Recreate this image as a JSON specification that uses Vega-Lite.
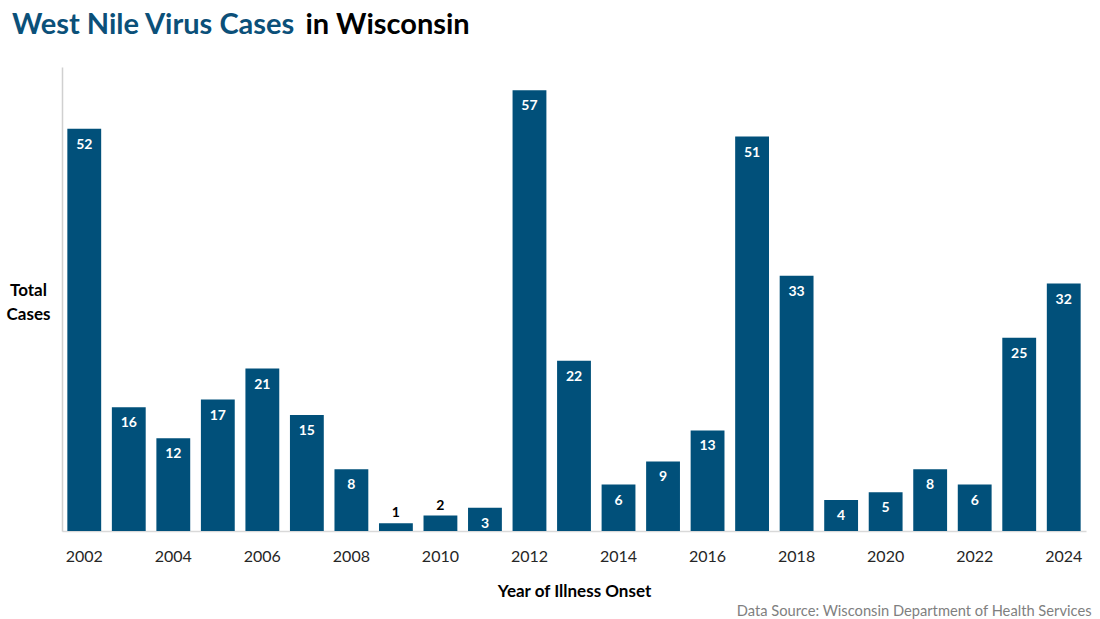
{
  "$schema": "https://vega.github.io/schema/vega-lite/v6.json",
  "autosize": {"type": "none"},
  "width": 1024,
  "height": 464,
  "padding": {"left": 62, "top": 67, "right": 14, "bottom": 88},
  "background": "white",
  "config": {
    "view": {"stroke": null},
    "font": "Lato",
    "axis": {"grid": false}
  },
  "title": {
    "text": "West Nile Virus Cases",
    "anchor": "start",
    "frame": "group",
    "dx": -50,
    "color": "#0B5079",
    "font": "Lato",
    "fontSize": 29,
    "fontWeight": "bold",
    "baseline": "alphabetic",
    "offset": -53
  },
  "data": {
    "values": [
      {"year": 2002, "cases": 52},
      {"year": 2003, "cases": 16},
      {"year": 2004, "cases": 12},
      {"year": 2005, "cases": 17},
      {"year": 2006, "cases": 21},
      {"year": 2007, "cases": 15},
      {"year": 2008, "cases": 8},
      {"year": 2009, "cases": 1},
      {"year": 2010, "cases": 2},
      {"year": 2011, "cases": 3},
      {"year": 2012, "cases": 57},
      {"year": 2013, "cases": 22},
      {"year": 2014, "cases": 6},
      {"year": 2015, "cases": 9},
      {"year": 2016, "cases": 13},
      {"year": 2017, "cases": 51},
      {"year": 2018, "cases": 33},
      {"year": 2019, "cases": 4},
      {"year": 2020, "cases": 5},
      {"year": 2021, "cases": 8},
      {"year": 2022, "cases": 6},
      {"year": 2023, "cases": 25},
      {"year": 2024, "cases": 32}
    ]
  },
  "layer": [
    {
      "encoding": {
        "x": {
          "field": "year",
          "type": "ordinal",
          "scale": {"paddingInner": 0.24, "paddingOuter": 0.12},
          "axis": {
            "orient": "bottom",
            "values": [2002, 2004, 2006, 2008, 2010, 2012, 2014, 2016, 2018, 2020, 2022, 2024],
            "labelAngle": 0,
            "ticks": false,
            "tickSize": 0,
            "domainColor": "#D9D9D9",
            "domainWidth": 1.5,
            "labelFont": "Lato",
            "labelFontSize": 16,
            "labelColor": "#262626",
            "labelBaseline": "alphabetic",
            "labelPadding": 30,
            "title": "Year of Illness Onset",
            "titleFont": "Lato",
            "titleFontSize": 17,
            "titleFontWeight": "bold",
            "titleColor": "#000000",
            "titleBaseline": "alphabetic",
            "titleAlign": "center",
            "titleX": 512,
            "titleY": 65
          }
        },
        "y": {
          "field": "cases",
          "type": "quantitative",
          "scale": {"domain": [0, 60], "nice": false},
          "axis": {
            "orient": "left",
            "labels": false,
            "ticks": false,
            "tickSize": 0,
            "domainColor": "#D0D0D0",
            "domainWidth": 1.5,
            "title": ["Total", "Cases"],
            "titleAngle": 0,
            "titleFont": "Lato",
            "titleFontSize": 17,
            "titleFontWeight": "bold",
            "titleColor": "#000000",
            "titleAlign": "center",
            "titleBaseline": "alphabetic",
            "titleLineHeight": 24,
            "titleX": -34,
            "titleY": 228
          }
        }
      },
      "layer": [
        {"mark": {"type": "bar", "color": "#01507A"}},
        {
          "transform": [{"filter": "datum.cases >= 3"}],
          "mark": {"type": "text", "color": "white", "font": "Lato", "fontWeight": "bold", "fontSize": 14, "baseline": "middle", "dy": 16},
          "encoding": {"text": {"field": "cases", "type": "quantitative"}}
        },
        {
          "transform": [{"filter": "datum.cases < 3"}],
          "mark": {"type": "text", "color": "black", "font": "Lato", "fontWeight": "bold", "fontSize": 14, "baseline": "middle", "dy": -10},
          "encoding": {"text": {"field": "cases", "type": "quantitative"}}
        }
      ]
    },
    {
      "mark": {"type": "bar", "opacity": 0},
      "encoding": {
        "x": {
          "field": "year",
          "type": "ordinal",
          "scale": {"paddingInner": 0.24, "paddingOuter": 0.12},
          "axis": {
            "orient": "top",
            "labels": false,
            "ticks": false,
            "domain": false,
            "title": "in Wisconsin",
            "titleFont": "Lato",
            "titleFontSize": 29,
            "titleFontWeight": "bold",
            "titleColor": "#000000",
            "titleAlign": "left",
            "titleBaseline": "alphabetic",
            "titleAnchor": "start",
            "titleX": 243,
            "titleY": -34
          }
        },
        "y": {
          "field": "cases",
          "type": "quantitative",
          "scale": {"domain": [0, 60], "nice": false},
          "axis": {
            "orient": "right",
            "labels": false,
            "ticks": false,
            "domain": false,
            "title": "Data Source: Wisconsin Department of Health Services",
            "titleAngle": 0,
            "titleFont": "Lato",
            "titleFontSize": 14.7,
            "titleFontWeight": "normal",
            "titleColor": "#7F7F7F",
            "titleAlign": "right",
            "titleBaseline": "alphabetic",
            "titleX": 5,
            "titleY": 548
          }
        }
      }
    }
  ],
  "resolve": {"scale": {"x": "independent", "y": "independent"}}
}
